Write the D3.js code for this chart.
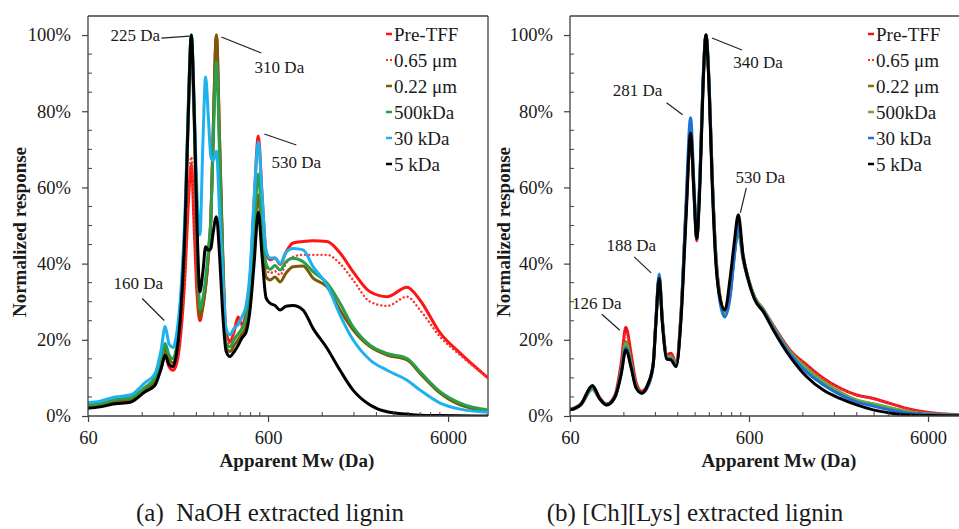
<!DOCTYPE html>
<html><head><meta charset="utf-8">
<script src="https://cdn.jsdelivr.net/npm/d3@7/dist/d3.min.js"></script>
<style>
body{margin:0;background:#fff}
svg{display:block}
svg text{font-family:'Liberation Serif','Times New Roman',Times,Tinos,'Nimbus Roman','DejaVu Serif',serif !important;fill:#1a1a1a}
</style>
</head><body>
<svg id="chart" width="959" height="529"></svg>
<script>
// ---------------- DATA ----------------
const seriesNames = ["Pre-TFF", "0.65 \u03bcm", "0.22 \u03bcm", "500kDa", "30 kDa", "5 kDa"];
const xTickValues = [60, 600, 6000];
const xMinorTicks = [120,180,240,300,360,420,480,540,1200,1800,2400,3000,3600,4200,4800,5400];
const yTickValues = [0, 20, 40, 60, 80, 100];
const yMinorTicks = [5,10,15,25,30,35,45,50,55,65,70,75,85,90,95];
const xTitle = "Apparent Mw (Da)";
const yTitle = "Normalized response";
const captions = ["(a)\u00a0 NaOH extracted lignin", "(b) [Ch][Lys] extracted lignin"];

// Panel (a): NaOH extracted lignin
const mwA = [60,70,85,103,124,141,153,161,169,178,187,197,208,216,225,234,242,251,261,270,280,289,297,310,323,335,351,369,388,409,430,453,477,502,530,556,585,616,656,700,755,826,939,1067,1276,1507,1780,2212,2750,3552,4194,5418,6996,10000];
const preTFF_A = [2.5,3,4,4.5,7,9,12.5,16,13,12,14,22,38,55,66,48,32,25,29,34,42,52,73,100,72,45,22,19.5,22,26,24,27,36,56,73.5,58,43,41,41.5,39.8,43,45.4,45.8,46,45.8,42.8,37.9,32.6,31.3,33.8,30.4,21.8,16.5,10];
const um065_A  = [2.5,3,4,4.5,7,9.2,13,17,14,13,15,23,39,57,68,50,33,26,29,34,42,52,73,100,72,45,21,19,21.5,25,23.5,26,33,51,62,52,39,37.5,38,37,40,41.8,42.3,42.3,42.3,40,35.7,30,28.9,31.3,27.8,20.8,16,10];
const um022_A  = [2.3,2.8,3.8,4.3,6.8,9,13.5,18,15,14,18,28,50,77,96,75,45,26,29,34,42,52,73,100,72,44,18,16.9,18.5,20,21.5,23.5,30,45,58,46,36.5,35.7,36.5,35.2,37.5,39.2,39.4,36.2,33.9,27.8,22.6,18.2,16,14.7,11.2,6,2.9,1.4];
const kDa500_A = [2.8,3.2,4.3,4.8,7.5,10,14.5,19,16,15,19,30,52,80,100,78,48,28,31,36,44,52,70,93,68,43,19,18.2,20,21.5,23,25.5,33,49,63.5,50,40,38.5,39.5,38.3,40.5,41.4,40.5,37.9,34.9,29.6,23.4,18.6,16.4,15.1,11.6,6.4,3.4,1.6];
const kDa30_A  = [3.5,3.9,5,5.5,8.7,11,17.5,23.5,19,18,22,33,55,80,100,80,58,47.5,72,89,78,68,67,69.5,53,38,23,21.3,23,24,26,29,38,57,72,58,43.5,41.5,41.5,40,43,44,43.6,39.2,34.4,26.5,20,14.7,12,9.4,6.8,3.4,1.8,1];
const kDa5_A   = [2,2.4,3.2,3.6,6.3,8,12.5,16,13.5,13,17,28,51,78,100,78,50,32.6,38,44.4,43.5,44,48,52.3,42,28,17,15.6,16.8,18.5,20.5,22,28,40,53.5,42,31,29.6,29,27.8,28.8,29,27.8,23,17.8,12,6.8,2.9,1.1,0.5,0.2,0.1,0.05,0];

// Panel (b): [Ch][Lys] extracted lignin
const mwB = [60,69,80,88,96,107,116,123,132,140,151,164,175,181,189,197,208,220,235,250,267,283,296,306,320,332,345,359,373,392,413,440,470,495,523,557,595,648,721,820,1017,1260,1560,1933,2398,2968,3680,4560,5904,10000];
const preTFF_B = [1.8,3.2,7.8,4.8,3.2,5.5,14,23.3,16,9,6.5,8.5,14,25,36,25,16,16.5,14,27,54,73,58,46,64,87,100,87,64,42,31.5,27,32,42,50.5,42,36,31,28,23.8,17.3,13.4,9.9,7.3,5.5,4.6,3.3,2,1,0.25];
const um065_B  = [1.8,3.2,7.8,4.8,3.2,5.5,13,22,15,8.5,6.5,8.5,14,25,36,25,16,16,14,27,54,73.5,59,46.5,64,87,100,87,64,42,31.5,27,32,42,50,42,36,31,28,23.8,17.2,13.2,9.7,7.2,5.4,4.5,3.2,1.9,1,0.25];
const um022_B  = [1.6,3,7,4.5,3,5,12,19.5,14,8,6,8,13.5,24.5,36.5,25,15.5,15.5,13.5,26,54,74,59,46.6,64,87,100,87,64,42,31,27,32,42,48,41,36,31,28,23.3,16.8,12.3,8.8,6.1,4.1,3.1,2.1,1.1,0.6,0.15];
const kDa500_B = [1.6,3,7,4.5,3,5,12,19,13.5,8,6,8,13.5,24.5,36.5,25,15.5,15.5,13.5,26,54,75,59,46.6,64,87,100,87,64,42,31,27,32,42,49,41.5,36,31,28,23.5,16.8,12.5,9,6.3,4.2,3.2,2.2,1.2,0.6,0.15];
const kDa30_B  = [1.6,3,7.5,4.5,2.9,5,11.5,18,13,7.5,6,8,13.5,25,37.3,25,15,15,13,26,56,78.3,60,46.6,65,88,100,88,64,41,30,26,31,41,50,41,35.5,30.5,27.6,23,16.3,11.5,8.2,5.6,3.7,2.6,1.6,0.8,0.4,0.1];
const kDa5_B   = [1.6,3,8,4.5,2.9,5,11,17.3,12.5,7.5,6,8.5,13.5,24,36.1,24,15,14.7,13,25,52,74.2,58,46.6,62,86,100,86,62,40,31,27.8,36,45,52.8,41.8,35.7,30.4,27.4,22.6,15.6,10.3,6.8,4.6,2.9,1.6,0.8,0.3,0.1,0];

// Annotations: label, Mw and response of the peak they point at
const annotA = [
  {label:"225 Da", mw:225, val:100},
  {label:"310 Da", mw:310, val:100},
  {label:"530 Da", mw:530, val:73.5},
  {label:"160 Da", mw:161, val:23.5}
];
const annotB = [
  {label:"340 Da", mw:345, val:100},
  {label:"281 Da", mw:283, val:78.3},
  {label:"530 Da", mw:523, val:52.8},
  {label:"188 Da", mw:189, val:37.3},
  {label:"126 Da", mw:123, val:23.3}
];

// ---------------- LAYOUT / STYLE ----------------
const FONT = "'Liberation Serif','Times New Roman',Times,Tinos,'Nimbus Roman','DejaVu Serif',serif";
const svg = d3.select("#chart");
const W = 959, H = 529;
const yTop = 16, yBottom = 416;

// annotation offsets (text centre, leader start, leader end) relative to the peak pixel
const annotLayoutA = [
  {tx:-56, ty:0,  x1:-30, y1:3,  x2:-2, y2:1},
  {tx:63,  ty:32, x1:5,   y1:2,  x2:45, y2:18},
  {tx:38,  ty:26, x1:6,   y1:-2, x2:38, y2:9},
  {tx:-27, ty:-43,x1:-23, y1:-28,x2:-1, y2:-6}
];
const annotLayoutB = [
  {tx:52,  ty:27, x1:6,   y1:3,  x2:36, y2:15},
  {tx:-53, ty:-28,x1:-24, y1:-15,x2:-8, y2:-3},
  {tx:22,  ty:-38,x1:8,   y1:-27,x2:2,  y2:-2},
  {tx:-28, ty:-29,x1:-25, y1:-17,x2:-8, y2:-1},
  {tx:-29, ty:-24,x1:-24, y1:-13,x2:-6, y2:3}
];

const panels = [
  {
    x0: 88, xEnd: 488, frameRight: 488,
    mw: mwA, series: [preTFF_A, um065_A, um022_A, kDa500_A, kDa30_A, kDa5_A],
    colors: ["#ff1414", "#ff3030", "#7a5a05", "#2a9e4a", "#1db2ee", "#000000"],
    legendX: 386, annots: annotA, annotLayout: annotLayoutA,
    yTitleX: 19, xTitleX: 297, caption: captions[0], captionX: 270
  },
  {
    x0: 570, xEnd: 570 + 179 * Math.log10(10000/60), frameRight: null,
    mw: mwB, series: [preTFF_B, um065_B, um022_B, kDa500_B, kDa30_B, kDa5_B],
    colors: ["#e8141c", "#ff3030", "#8c6a12", "#6aa845", "#1f72d4", "#000000"],
    legendX: 868, annots: annotB, annotLayout: annotLayoutB,
    yTitleX: 503, xTitleX: 779, caption: captions[1], captionX: 695
  }
];

panels.forEach(p => {
  const x = d3.scaleLog().domain([60, 10000]).range([p.x0, p.xEnd]);
  const y = d3.scaleLinear().domain([0, 105]).range([yBottom, yTop]);
  const g = svg.append("g");

  const right = p.frameRight !== null ? p.frameRight : W + 2;
  g.append("line").attr("x1", p.x0).attr("x2", right).attr("y1", yTop).attr("y2", yTop)
    .attr("stroke", "#404040").attr("stroke-width", 1.3);
  if (p.frameRight !== null) {
    g.append("line").attr("x1", right).attr("x2", right).attr("y1", yTop).attr("y2", yBottom)
      .attr("stroke", "#404040").attr("stroke-width", 1.3);
  }

  const clipId = "clip" + p.x0;
  svg.append("clipPath").attr("id", clipId).append("rect")
    .attr("x", p.x0).attr("y", yTop - 5).attr("width", Math.min(p.xEnd, W) - p.x0).attr("height", yBottom - yTop + 5);

  const line = d3.line().x(d => x(d[0])).y(d => y(d[1])).curve(d3.curveMonotoneX);
  const lg = g.append("g").attr("clip-path", `url(#${clipId})`);
  p.series.forEach((vals, i) => {
    const pts = p.mw.map((m, k) => [m, vals[k]]);
    const path = lg.append("path").datum(pts).attr("d", line)
      .attr("fill", "none").attr("stroke", p.colors[i])
      .attr("stroke-linejoin", "round").attr("stroke-linecap", "round");
    if (i === 1) {
      path.attr("stroke-width", 2.4).attr("stroke-dasharray", "0.1,4");
    } else {
      path.attr("stroke-width", 3);
    }
  });

  const yAxis = d3.axisLeft(y).tickValues(yTickValues).tickSize(6).tickPadding(11)
    .tickFormat(d => d + "%");
  const ya = g.append("g").attr("transform", `translate(${p.x0},0)`).call(yAxis);
  ya.attr("font-family", FONT);
  ya.select(".domain").attr("d", `M0,${yBottom}V${yTop}`).attr("stroke", "#404040").attr("stroke-width", 1.3);
  ya.selectAll(".tick line").attr("stroke", "#404040").attr("stroke-width", 1.2);
  ya.selectAll(".tick text").attr("font-size", 18.5).attr("fill", "#1a1a1a");
  g.append("g").selectAll("line").data(yMinorTicks).join("line")
    .attr("x1", p.x0).attr("x2", p.x0 + 4).attr("y1", d => y(d)).attr("y2", d => y(d))
    .attr("stroke", "#404040").attr("stroke-width", 1);

  const xAxis = d3.axisBottom(x).tickValues(xTickValues).tickSize(6).tickPadding(9)
    .tickFormat(d3.format("d"));
  const xa = g.append("g").attr("transform", `translate(0,${yBottom})`).call(xAxis);
  xa.attr("font-family", FONT);
  xa.select(".domain").attr("d", `M${p.x0},0H${Math.min(p.xEnd, W + 2)}`).attr("stroke", "#404040").attr("stroke-width", 1.3);
  xa.selectAll(".tick line").attr("stroke", "#404040").attr("stroke-width", 1.2);
  xa.selectAll(".tick text").attr("font-size", 18.5).attr("fill", "#1a1a1a");
  g.append("g").selectAll("line").data(xMinorTicks).join("line")
    .attr("x1", d => x(d)).attr("x2", d => x(d)).attr("y1", yBottom).attr("y2", yBottom - 4)
    .attr("stroke", "#404040").attr("stroke-width", 1);

  g.append("text").attr("x", p.xTitleX).attr("y", 460).attr("dy", "0.35em")
    .attr("text-anchor", "middle").attr("font-weight", "bold").attr("font-size", 19).text(xTitle);
  g.append("text").attr("transform", `translate(${p.yTitleX},232) rotate(-90)`).attr("dy", "0.35em")
    .attr("text-anchor", "middle").attr("font-weight", "bold").attr("font-size", 19).text(yTitle);

  g.append("text").attr("x", p.captionX).attr("y", 512).attr("dy", "0.35em")
    .attr("text-anchor", "middle").attr("font-size", 25).text(p.caption);

  const leg = g.append("g");
  seriesNames.forEach((name, i) => {
    const cy = 34 + i * 26;
    if (i === 1) {
      leg.append("line").attr("x1", p.legendX).attr("x2", p.legendX + 7).attr("y1", cy).attr("y2", cy)
        .attr("stroke", p.colors[i]).attr("stroke-width", 2).attr("stroke-dasharray", "2,2");
    } else {
      leg.append("line").attr("x1", p.legendX).attr("x2", p.legendX + 6).attr("y1", cy).attr("y2", cy)
        .attr("stroke", p.colors[i]).attr("stroke-width", 2.5);
    }
    leg.append("text").attr("x", p.legendX + 8).attr("y", cy).attr("dy", "0.35em")
      .attr("font-size", 19).text(name);
  });

  p.annots.forEach((a, i) => {
    const L = p.annotLayout[i];
    const px = x(a.mw), py = y(a.val);
    g.append("line").attr("x1", px + L.x1).attr("y1", py + L.y1).attr("x2", px + L.x2).attr("y2", py + L.y2)
      .attr("stroke", "#222").attr("stroke-width", 1.2);
    g.append("text").attr("x", px + L.tx).attr("y", py + L.ty).attr("dy", "0.35em")
      .attr("text-anchor", "middle").attr("font-size", 17).text(a.label);
  });
});
svg.selectAll("text").style("font-family", FONT);
</script>
</body></html>
